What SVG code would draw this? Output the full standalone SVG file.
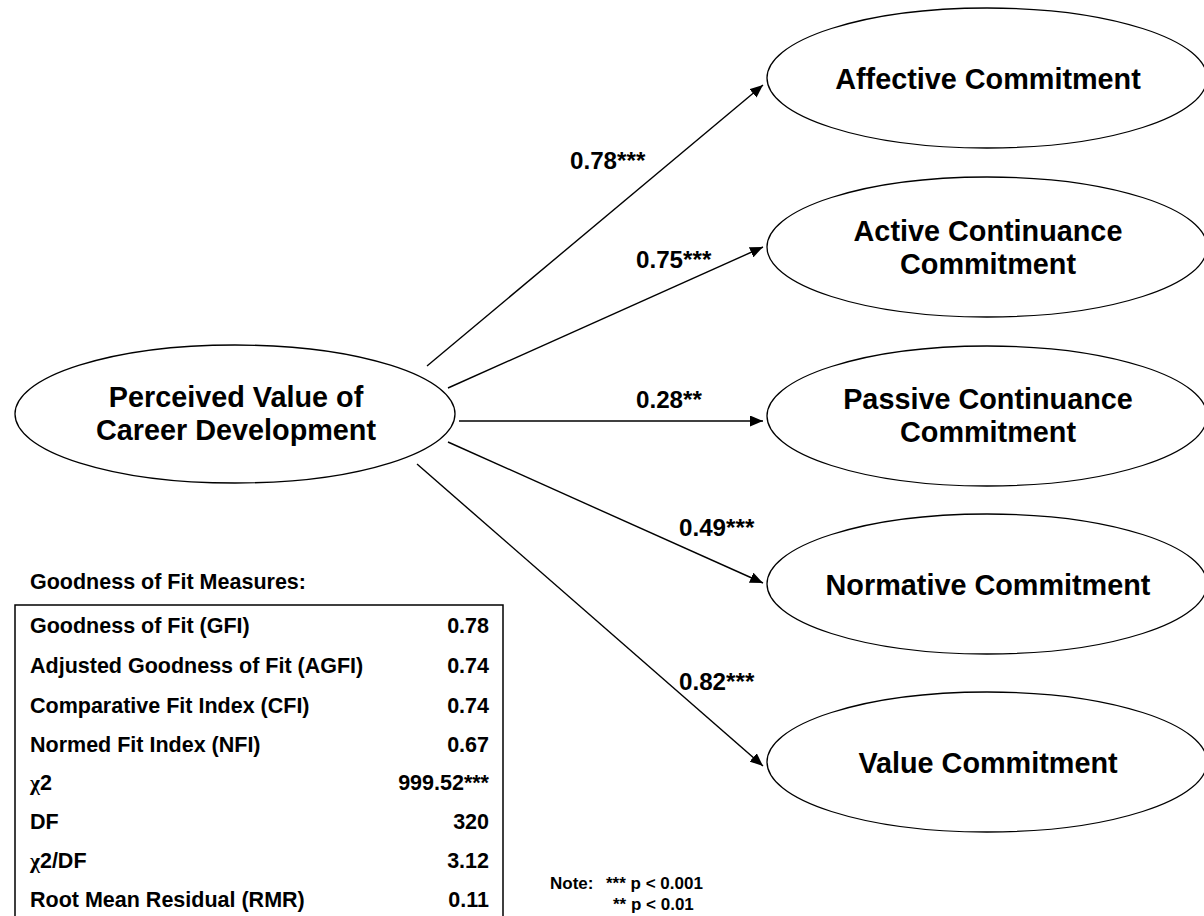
<svg xmlns="http://www.w3.org/2000/svg" width="1204" height="916" viewBox="0 0 1204 916">
  <defs>
    <marker id="arrow" markerUnits="userSpaceOnUse" markerWidth="14" markerHeight="11" refX="13" refY="5.5" orient="auto">
      <path d="M0,0 L13,5.5 L0,11 z" fill="#000"/>
    </marker>
    <style>
      text { font-family: "Liberation Sans", Arial, sans-serif; font-weight: bold; fill: #000; }
      .node ellipse { fill: #fff; stroke: #000; stroke-width: 1.3; }
      .node text { font-size: 28.8px; text-anchor: middle; }
      .edge { stroke: #000; stroke-width: 1.4; fill: none; marker-end: url(#arrow); }
      .coef { font-size: 24.2px; }
      .fit { font-size: 21.5px; }
      .val { font-size: 21.5px; text-anchor: end; }
      .chi { font-family: "Liberation Serif", "Times New Roman", serif; }
      .note { font-size: 17px; }
    </style>
  </defs>

  <rect width="1204" height="916" fill="#fff"/>

  <!-- path arrows from the predictor -->
  <g id="connectors">
    <line class="edge" x1="427" y1="366" x2="763" y2="85"/>
    <line class="edge" x1="448" y1="388" x2="763" y2="247"/>
    <line class="edge" x1="459" y1="421" x2="763" y2="421"/>
    <line class="edge" x1="448" y1="442" x2="763" y2="583"/>
    <line class="edge" x1="417" y1="464" x2="763" y2="766"/>
  </g>

  <!-- path coefficients -->
  <g id="coefficients">
    <text class="coef" x="570" y="169">0.78***</text>
    <text class="coef" x="636" y="268">0.75***</text>
    <text class="coef" x="636" y="408">0.28**</text>
    <text class="coef" x="679" y="536">0.49***</text>
    <text class="coef" x="679" y="690">0.82***</text>
  </g>

  <g id="perceived-value" class="node">
    <ellipse cx="235" cy="414" rx="220" ry="69"/>
    <text x="236" y="407">Perceived Value of</text>
    <text x="236" y="440">Career Development</text>
  </g>

  <g id="affective" class="node">
    <ellipse cx="987" cy="78" rx="220" ry="70"/>
    <text x="988" y="89">Affective Commitment</text>
  </g>

  <g id="active-continuance" class="node">
    <ellipse cx="987" cy="247" rx="220" ry="70"/>
    <text x="988" y="241">Active Continuance</text>
    <text x="988" y="274">Commitment</text>
  </g>

  <g id="passive-continuance" class="node">
    <ellipse cx="987" cy="416" rx="220" ry="70"/>
    <text x="988" y="409">Passive Continuance</text>
    <text x="988" y="442">Commitment</text>
  </g>

  <g id="normative" class="node">
    <ellipse cx="987" cy="584" rx="220" ry="70"/>
    <text x="988" y="595">Normative Commitment</text>
  </g>

  <g id="value" class="node">
    <ellipse cx="987" cy="762" rx="220" ry="70"/>
    <text x="988" y="773">Value Commitment</text>
  </g>

  <!-- goodness of fit table -->
  <g id="fit-table">
    <text class="fit" x="30" y="589">Goodness of Fit Measures:</text>
    <path d="M15,916 V605 H503 V916" fill="none" stroke="#000" stroke-width="1.5"/>
    <text class="fit" x="30" y="633">Goodness of Fit (GFI)</text>
    <text class="val" x="489" y="633">0.78</text>
    <text class="fit" x="30" y="673">Adjusted Goodness of Fit (AGFI)</text>
    <text class="val" x="489" y="673">0.74</text>
    <text class="fit" x="30" y="713">Comparative Fit Index (CFI)</text>
    <text class="val" x="489" y="713">0.74</text>
    <text class="fit" x="30" y="752">Normed Fit Index (NFI)</text>
    <text class="val" x="489" y="752">0.67</text>
    <text class="fit" x="30" y="790"><tspan class="chi">χ</tspan>2</text>
    <text class="val" x="489" y="790">999.52***</text>
    <text class="fit" x="30" y="829">DF</text>
    <text class="val" x="489" y="829">320</text>
    <text class="fit" x="30" y="868"><tspan class="chi">χ</tspan>2/DF</text>
    <text class="val" x="489" y="868">3.12</text>
    <text class="fit" x="30" y="907">Root Mean Residual (RMR)</text>
    <text class="val" x="489" y="907">0.11</text>
  </g>

  <g id="note">
    <text class="note" x="550" y="889">Note:</text>
    <text class="note" x="606" y="889">*** p &lt; 0.001</text>
    <text class="note" x="613" y="910">** p &lt; 0.01</text>
  </g>
</svg>
